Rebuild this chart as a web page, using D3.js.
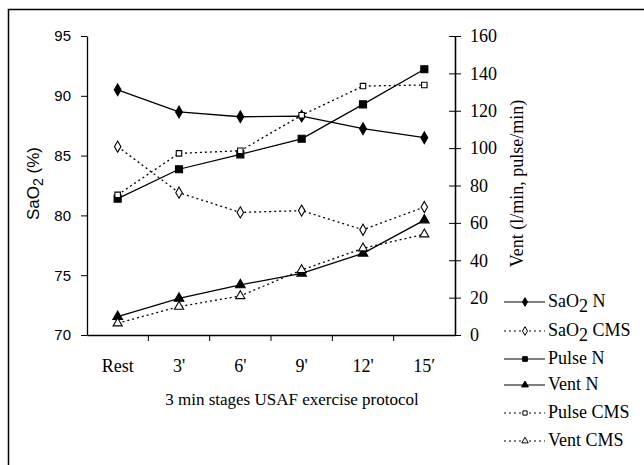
<!DOCTYPE html>
<html>
<head>
<meta charset="utf-8">
<script src="https://cdn.jsdelivr.net/npm/d3@7/dist/d3.min.js"></script>
<style>
  body { margin: 0; background: #fff; }
</style>
</head>
<body>
<div id="chart"></div>
<script>
// stages of the protocol
const stages = ["Rest", "3'", "6'", "9'", "12'", "15\u2032"];

// SaO2 (%) - left axis
const sao2N   = [90.5, 88.65, 88.25, 88.3, 87.25, 86.5];
const sao2CMS = [85.75, 81.9, 80.25, 80.4, 78.8, 80.7];

// pulse and ventilation - right axis
const pulseN   = [73, 88.7, 96.7, 105, 123.4, 142.2];
const pulseCMS = [75, 97.2, 98.6, 117.6, 133.2, 133.8];
const ventN    = [9.8, 19.6, 26.8, 33, 43.7, 61.5];
const ventCMS  = [6.3, 15.2, 20.9, 34.8, 46.4, 53.9];

const leftTicks = [70, 75, 80, 85, 90, 95];
const rightTicks = [0, 20, 40, 60, 80, 100, 120, 140, 160];

const SANS = "'Liberation Sans', Arial, sans-serif";
const SERIF = "'Liberation Serif', 'Times New Roman', serif";

lineChart();

function lineChart() {
    let W = 644, H = 465;
    let margin = { top: 36, left: 87 },
        width = 368,
        height = 299;

    let svg = d3.select("#chart").append("svg")
        .attr("width", W)
        .attr("height", H);

    // outer frame (only top and left edge visible)
    svg.append("rect")
        .attr("x", 8.5).attr("y", 9.5)
        .attr("width", W + 20).attr("height", H + 20)
        .attr("fill", "none")
        .attr("stroke", "#000")
        .attr("stroke-width", 1.5);

    let g = svg.append("g")
        .attr("transform", "translate(" + margin.left + "," + margin.top + ")");

    let x = d3.scaleBand().domain(stages).range([0, width]);
    let cx = d => x(d) + x.bandwidth() / 2;
    let yL = d3.scaleLinear().domain([70, 95]).range([height, 0]);
    let yR = d3.scaleLinear().domain([0, 160]).range([height, 0]);

    // left axis
    let gl = g.append("g")
        .call(d3.axisLeft(yL).tickValues(leftTicks).tickSize(6).tickSizeOuter(0).tickPadding(10));
    gl.selectAll("text")
        .style("font-family", SANS)
        .style("font-size", "15px")
        .attr("fill", "#000");

    // right axis (ticks cross the line)
    let gr = g.append("g")
        .attr("transform", "translate(" + width + ",0)")
        .call(d3.axisRight(yR).tickValues(rightTicks).tickSize(6).tickSizeOuter(0).tickPadding(9));
    gr.selectAll("text")
        .style("font-family", SERIF)
        .style("font-size", "18px")
        .attr("fill", "#000");
    g.append("g")
        .attr("transform", "translate(" + width + ",0)")
        .call(d3.axisLeft(yR).tickValues(rightTicks).tickSize(6).tickSizeOuter(0).tickFormat(""));

    // bottom axis: labels in band centres, ticks at band edges
    let gb = g.append("g")
        .attr("transform", "translate(0," + height + ")")
        .call(d3.axisBottom(x).tickSize(0).tickPadding(24));
    gb.selectAll("text")
        .style("font-family", SERIF)
        .style("font-size", "18px")
        .attr("fill", "#000");
    gb.selectAll(".edge")
        .data(stages.slice(1))
        .enter().append("line")
        .attr("x1", d => x(d)).attr("x2", d => x(d))
        .attr("y1", 0).attr("y2", 6)
        .attr("stroke", "#000");

    g.selectAll(".domain").attr("stroke-width", 1.3);

    // axis titles
    g.append("text")
        .attr("x", width / 2 + 21)
        .attr("y", height + 70)
        .style("font-family", SERIF)
        .style("font-size", "17px")
        .attr("text-anchor", "middle")
        .text("3 min stages USAF exercise protocol");

    let tl = g.append("text")
        .attr("transform", "translate(-48," + (height / 2 - 2) + ") rotate(-90)")
        .style("font-family", SANS)
        .style("font-size", "17px")
        .attr("text-anchor", "middle");
    tl.append("tspan").text("SaO");
    tl.append("tspan").attr("dy", 4).style("font-size", "14px").text("2");
    tl.append("tspan").attr("dy", -4).text(" (%)");

    g.append("text")
        .attr("transform", "translate(" + (width + 68) + "," + (height / 2 - 2) + ") rotate(-90)")
        .style("font-family", SERIF)
        .style("font-size", "18px")
        .attr("text-anchor", "middle")
        .text("Vent (l/min, pulse/min)");

    let series = [
        { name: ["SaO", "2", " N"],   vals: sao2N,    y: yL, dash: null,  sym: d3.symbolDiamond,  fill: "#000", size: 40, lsize: 22 },
        { name: ["SaO", "2", " CMS"], vals: sao2CMS,  y: yL, dash: "2,3", sym: d3.symbolDiamond,  fill: "#fff", size: 36, lsize: 22 },
        { name: ["Pulse N"],          vals: pulseN,   y: yR, dash: null,  sym: d3.symbolSquare,   fill: "#000", size: 50, lsize: 22 },
        { name: ["Vent N"],           vals: ventN,    y: yR, dash: null,  sym: d3.symbolTriangle, fill: "#000", size: 40, lsize: 20 },
        { name: ["Pulse CMS"],        vals: pulseCMS, y: yR, dash: "2,3", sym: d3.symbolSquare,   fill: "#fff", size: 30, lsize: 18 },
        { name: ["Vent CMS"],         vals: ventCMS,  y: yR, dash: "2,3", sym: d3.symbolTriangle, fill: "#fff", size: 36, lsize: 18 }
    ];

    series.forEach(function(s) {
        let line = d3.line()
            .x((d, i) => cx(stages[i]))
            .y(d => s.y(d));
        g.append("path")
            .datum(s.vals)
            .attr("d", line)
            .attr("fill", "none")
            .attr("stroke", "#000")
            .attr("stroke-width", 1.3)
            .attr("stroke-dasharray", s.dash);
        g.selectAll(null)
            .data(s.vals)
            .enter().append("path")
            .attr("transform", (d, i) => "translate(" + cx(stages[i]) + "," + s.y(d) + ")")
            .attr("d", d3.symbol().type(s.sym).size(s.size))
            .attr("fill", s.fill)
            .attr("stroke", "#000")
            .attr("stroke-width", 1.1);
    });

    // legend
    let legendY = [302, 331, 359, 385, 413, 441];
    let lg = svg.append("g");
    series.forEach(function(s, i) {
        let yy = legendY[i];
        lg.append("line")
            .attr("x1", 504).attr("x2", 545)
            .attr("y1", yy).attr("y2", yy)
            .attr("stroke", "#000")
            .attr("stroke-width", 1.2)
            .attr("stroke-dasharray", s.dash);
        lg.append("path")
            .attr("transform", "translate(525," + yy + ")")
            .attr("d", d3.symbol().type(s.sym).size(s.lsize))
            .attr("fill", s.fill)
            .attr("stroke", "#000");
        let t = lg.append("text")
            .attr("x", 548).attr("y", yy + 5)
            .style("font-family", SERIF)
            .style("font-size", "18px");
        t.append("tspan").text(s.name[0]);
        if (s.name.length > 1) {
            t.append("tspan").attr("dy", 5).text(s.name[1]);
            t.append("tspan").attr("dy", -5).text(s.name[2]);
        }
    });
}
</script>
</body>
</html>
